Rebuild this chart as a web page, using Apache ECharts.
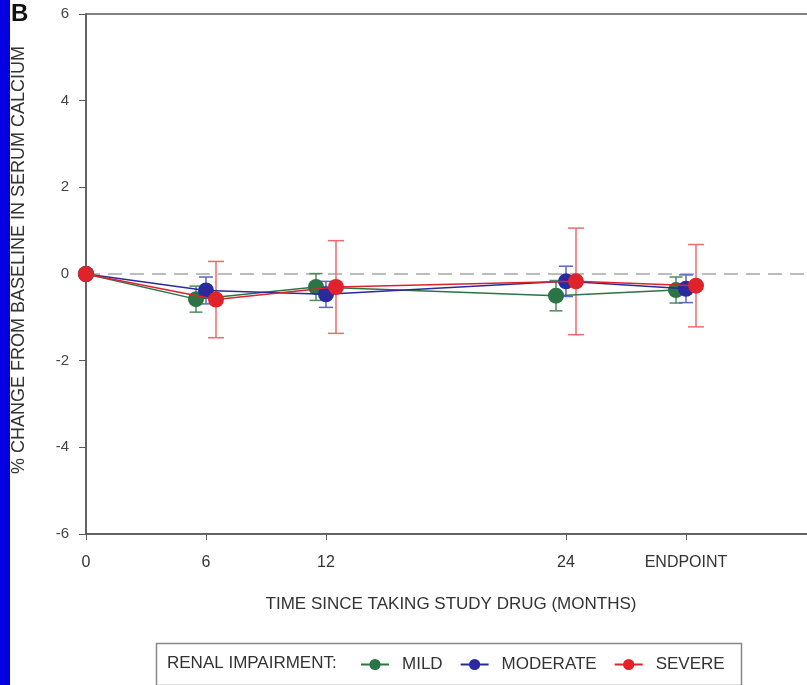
<!DOCTYPE html>
<html>
<head>
<meta charset="utf-8">
<script src="https://cdn.jsdelivr.net/npm/echarts@6/dist/echarts.min.js"></script>
<style>
  html, body { margin: 0; padding: 0; background: #fff; }
  #chart { width: 807px; height: 685px; }
</style>
</head>
<body>
<div id="chart"></div>
<script>
// time points (months) and their tick labels; 30 is the endpoint slot
const months = [0, 6, 12, 24, 30];
const tickLabels = ['0', '6', '12', '24', 'ENDPOINT'];

// % change from baseline, mean and +/- error
const mildMean = [0, -0.58, -0.30, -0.50, -0.37];
const mildErr = [0, 0.30, 0.31, 0.35, 0.30];
const moderateMean = [0, -0.38, -0.47, -0.17, -0.34];
const moderateErr = [0, 0.31, 0.30, 0.35, 0.32];
const severeMean = [0, -0.59, -0.30, -0.17, -0.27];
const severeErr = [0, 0.88, 1.07, 1.23, 0.95];

const FONT = 'Liberation Sans, Arial, sans-serif';

const groups = [
  { name: 'MILD', mean: mildMean, err: mildErr, dodge: -0.5, color: '#2b7444', barColor: '#4f8a62', cap: 13, z: 3 },
  { name: 'MODERATE', mean: moderateMean, err: moderateErr, dodge: 0, color: '#2a2a9e', barColor: '#5a66c2', cap: 14, z: 4 },
  { name: 'SEVERE', mean: severeMean, err: severeErr, dodge: 0.5, color: '#e0222b', barColor: '#eb6b6b', cap: 16, z: 5 }
];

function xPos(g, i) {
  // no dodge at baseline
  return months[i] + (i > 0 ? g.dodge : 0);
}

function errorBar(color, cap) {
  return function (params, api) {
    const e = api.value(2);
    if (!e) return null;
    const x = api.value(0), y = api.value(1);
    const top = api.coord([x, y + e]);
    const bot = api.coord([x, y - e]);
    const hw = cap / 2;
    const style = { stroke: color, lineWidth: 1.5 };
    return {
      type: 'group',
      children: [
        { type: 'line', shape: { x1: top[0], y1: top[1], x2: bot[0], y2: bot[1] }, style: style },
        { type: 'line', shape: { x1: top[0] - hw, y1: top[1], x2: top[0] + hw, y2: top[1] }, style: style },
        { type: 'line', shape: { x1: bot[0] - hw, y1: bot[1], x2: bot[0] + hw, y2: bot[1] }, style: style }
      ]
    };
  };
}

const series = [];
// dashed zero reference line
series.push({
  name: 'zero',
  type: 'line',
  data: [[0, 0], [36.5, 0]],
  symbol: 'none',
  silent: true,
  z: 0,
  lineStyle: { color: '#bdbdbd', type: [14, 8], width: 2 }
});
groups.forEach(g => {
  series.push({
    name: g.name + ' err',
    type: 'custom',
    renderItem: errorBar(g.barColor, g.cap),
    data: months.map((m, i) => [xPos(g, i), g.mean[i], g.err[i]]),
    z: 1,
    silent: true
  });
});
groups.forEach(g => {
  series.push({
    name: g.name,
    type: 'line',
    data: months.map((m, i) => [xPos(g, i), g.mean[i]]),
    symbol: 'circle',
    symbolSize: 16,
    showSymbol: true,
    z: g.z,
    itemStyle: { color: g.color },
    lineStyle: { color: g.color, width: 1.5 }
  });
});

const chart = echarts.init(document.getElementById('chart'));
chart.setOption({
  animation: false,
  textStyle: { fontFamily: FONT },
  grid: {
    // right edge falls just outside the picture
    left: 86, top: 14, width: 730, height: 520,
    outerBoundsMode: 'none',
    containLabel: false,
    show: true, borderColor: '#5a5a5a', borderWidth: 1.5
  },
  xAxis: {
    type: 'value',
    min: 0, max: 36.5,
    name: 'TIME SINCE TAKING STUDY DRUG (MONTHS)',
    nameLocation: 'middle',
    nameGap: 62,
    nameTextStyle: { color: '#333', fontSize: 17, fontFamily: FONT },
    axisLine: { show: true, onZero: false, lineStyle: { color: '#5a5a5a', width: 1.5 } },
    axisTick: { show: true, length: 6, customValues: months, lineStyle: { color: '#5a5a5a' } },
    axisLabel: {
      customValues: months,
      margin: 21,
      color: '#333', fontSize: 16, fontFamily: FONT,
      formatter: v => tickLabels[months.indexOf(v)]
    },
    splitLine: { show: false }
  },
  yAxis: {
    type: 'value',
    min: -6, max: 6, interval: 2,
    axisLine: { show: true, onZero: false, lineStyle: { color: '#5a5a5a', width: 1.5 } },
    axisTick: { show: true, length: 7, lineStyle: { color: '#5a5a5a' } },
    axisLabel: { margin: 17, color: '#444', fontSize: 15, fontFamily: FONT },
    splitLine: { show: false }
  },
  legend: {
    data: groups.map(g => g.name),
    left: 355, top: 651,
    itemWidth: 28, itemHeight: 14, itemGap: 17,
    textStyle: { color: '#333', fontSize: 17, fontFamily: FONT, padding: [0, 0, 0, 8] }
  },
  graphic: [
    { type: 'rect', left: 0, top: 0, shape: { width: 10, height: 685 }, style: { fill: '#0000e0' }, z: 10 },
    { type: 'text', left: 11, top: 2, style: { text: 'B', fill: '#111', font: 'bold 24px ' + FONT }, z: 10 },
    {
      type: 'text', x: 19, y: 260, rotation: Math.PI / 2,
      style: { text: '% CHANGE FROM BASELINE IN SERUM CALCIUM', fill: '#333', font: '18px ' + FONT, align: 'center', verticalAlign: 'middle' }
    },
    { type: 'rect', left: 154, top: 641, shape: { width: 585, height: 42 }, style: { fill: 'none', stroke: '#888', lineWidth: 1.5 } },
    { type: 'text', left: 167, top: 655, style: { text: 'RENAL IMPAIRMENT:', fill: '#333', font: '17px ' + FONT } }
  ],
  series: series
});
</script>
</body>
</html>
